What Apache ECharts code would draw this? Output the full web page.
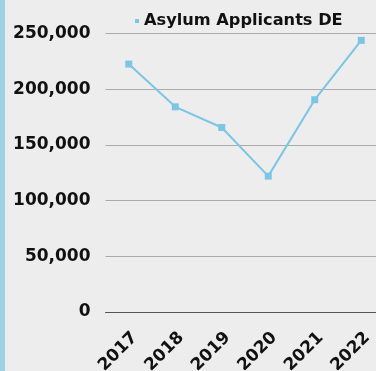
<!DOCTYPE html>
<html>
<head>
<meta charset="utf-8">
<script src="https://cdn.jsdelivr.net/npm/echarts@6/dist/echarts.min.js"></script>
<style>
  html, body { margin: 0; padding: 0; background: #ededed; }
  #wrap { position: relative; width: 376px; height: 371px; background: #ededed; overflow: hidden; }
  #stripe { position: absolute; left: 0; top: 0; width: 5px; height: 371px; background: #9fd1e6; }
  #chart { position: absolute; left: 0; top: 0; width: 376px; height: 371px; }
</style>
</head>
<body>
<div id="wrap">
  <div id="chart"></div>
  <div id="stripe"></div>
</div>
<script>
// Asylum applications in Germany per year
const years = ['2017', '2018', '2019', '2020', '2021', '2022'];
const applicants = [222560, 184180, 165615, 121955, 190545, 243835];
const seriesName = 'Asylum Applicants DE';

const yMin = 0;
const yMax = 250000;
const yStep = 50000;

const FONT = 'DejaVu Sans';
const LINE_COLOR = '#7cc5e4';

const chart = echarts.init(document.getElementById('chart'), null, { renderer: 'canvas' });

chart.setOption({
  backgroundColor: 'transparent',
  animation: false,
  legend: {
    data: [{ name: seriesName, icon: 'rect' }],
    left: 130,
    top: 8,
    itemWidth: 4,
    itemHeight: 4,
    textStyle: { fontFamily: FONT, fontWeight: 'bold', fontSize: 16.2, color: '#111' }
  },
  grid: {
    left: 105.5,
    top: 33.5,
    width: 279,
    height: 278.5,
    containLabel: false,
    outerBoundsMode: 'none'
  },
  xAxis: {
    type: 'category',
    data: years,
    boundaryGap: true,
    axisLine: { show: true, lineStyle: { color: '#555', width: 1 } },
    axisTick: { show: false },
    axisLabel: {
      rotate: 45,
      align: 'right',
      verticalAlign: 'top',
      margin: 17,
      interval: 0,
      fontFamily: FONT,
      fontWeight: 'bold',
      fontSize: 17,
      color: '#111'
    },
    splitLine: { show: false }
  },
  yAxis: {
    type: 'value',
    min: yMin,
    max: yMax,
    interval: yStep,
    axisLine: { show: false },
    axisTick: { show: false },
    axisLabel: {
      margin: 15,
      fontFamily: FONT,
      fontWeight: 'bold',
      fontSize: 17,
      color: '#111',
      formatter: v => v.toLocaleString('en-US')
    },
    splitLine: { show: true, lineStyle: { color: '#ababab', width: 1 } }
  },
  series: [{
    name: seriesName,
    type: 'line',
    data: applicants,
    symbol: 'rect',
    symbolSize: 7,
    itemStyle: { color: LINE_COLOR },
    lineStyle: { color: LINE_COLOR, width: 2 },
    label: { show: false }
  }]
});
</script>
</body>
</html>
